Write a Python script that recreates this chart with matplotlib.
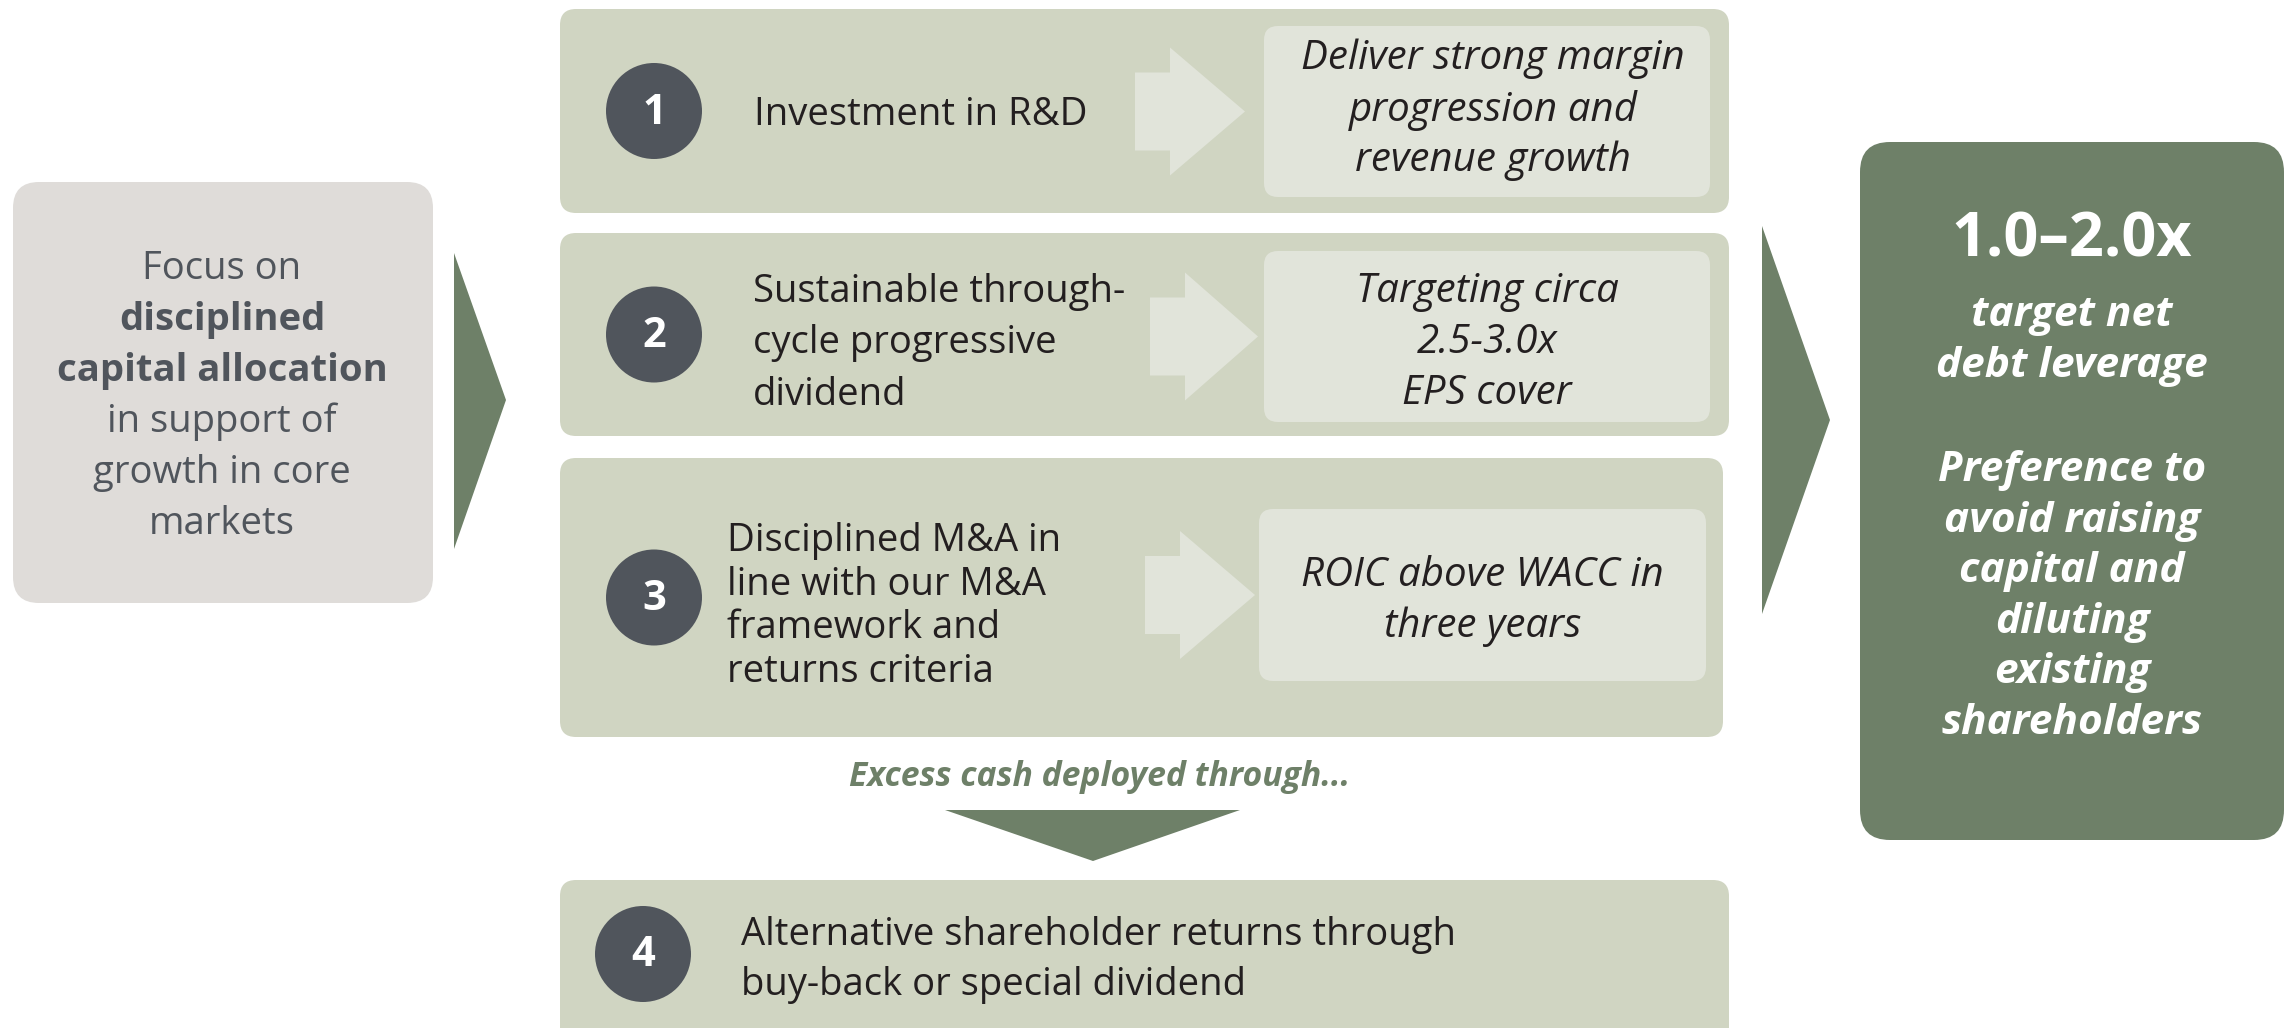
import matplotlib.pyplot as plt
from matplotlib.patches import FancyBboxPatch, Circle, Polygon

plt.rcParams['font.family'] = ['Open Sans', 'DejaVu Sans']

# colours
grey_box = '#dfdcd9'
grey_text = '#50555c'
sage = '#d0d5c2'
pale = '#e1e4da'
dark = '#50555c'
green = '#6e8068'
ink = '#231f20'

# content
left_lines = [('Focus on', 'normal'), ('disciplined', 'bold'), ('capital allocation', 'bold'),
              ('in support of', 'normal'), ('growth in core', 'normal'), ('markets', 'normal')]
numbers = ['1', '2', '3', '4']
items = ['Investment in R&D',
         'Sustainable through-\ncycle progressive\ndividend',
         'Disciplined M&A in\nline with our M&A\nframework and\nreturns criteria',
         'Alternative shareholder returns through\nbuy-back or special dividend']
outcomes = ['Deliver strong margin\nprogression and\nrevenue growth',
            'Targeting circa\n2.5-3.0x\nEPS cover',
            'ROIC above WACC in\nthree years']
excess_label = 'Excess cash deployed through...'
right_head = '1.0\u20132.0x'
right_sub = 'target net\ndebt leverage'
right_body = 'Preference to\navoid raising\ncapital and\ndiluting\nexisting\nshareholders'

fig = plt.figure(figsize=(22.88, 10.28), dpi=100)
ax = fig.add_axes([0, 0, 1, 1])
ax.set_xlim(0, 2288)
ax.set_ylim(1028, 0)
ax.axis('off')


def rbox(x0, y0, x1, y1, color, r):
    ax.add_patch(FancyBboxPatch((x0 + r, y0 + r), x1 - x0 - 2 * r, y1 - y0 - 2 * r,
                                boxstyle='round,pad=%d' % r, fc=color, ec='none'))


def right_arrow(x0, x1, xh, yc, body_h, head_h, color):
    pts = [(x0, yc - body_h / 2), (xh, yc - body_h / 2), (xh, yc - head_h / 2), (x1, yc),
           (xh, yc + head_h / 2), (xh, yc + body_h / 2), (x0, yc + body_h / 2)]
    ax.add_patch(Polygon(pts, closed=True, fc=color, ec='none'))


# left box
rbox(13, 182, 433, 603, grey_box, 26)
ys = [269, 320, 371, 422, 473, 524]
for (txt, w), y in zip(left_lines, ys):
    ax.text(222, y, txt, ha='center', va='center', fontsize=27.5, fontweight=w, color=grey_text)
ax.add_patch(Polygon([(454, 253), (506, 400), (454, 549)], closed=True, fc=green, ec='none'))

# rows 1-3
rows = [(9, 213), (233, 436), (458, 737)]
inner = [(1264, 26, 1710, 197), (1264, 251, 1710, 422), (1259, 509, 1706, 681)]
arrows = [(1135, 1245, 1170), (1150, 1258, 1185), (1145, 1255, 1180)]
text_x = [754, 753, 727]
item_ls = [1.3, 1.45, 1.19]
item_dy = [4, 9, 9]
inner_dx = [6, 0, 0]
inner_dy = [-1.5, 6, 6]
for i, (y0, y1) in enumerate(rows):
    x1 = 1729 if i < 2 else 1723
    rbox(560, y0, x1, y1, sage, 16)
    yc = (y0 + y1) / 2
    ax.add_patch(Circle((654, yc), 48, fc=dark, ec='none'))
    ax.text(654, yc + 2, numbers[i], ha='center', va='center', fontsize=30, fontweight='bold', color='white')
    ax.text(text_x[i], yc + item_dy[i], items[i], ha='left', va='center', fontsize=27.5, color=ink,
            linespacing=item_ls[i])
    a0, a1, ah = arrows[i]
    right_arrow(a0, a1, ah, (inner[i][1] + inner[i][3]) / 2, 78, 128, pale)
    bx0, by0, bx1, by1 = inner[i]
    rbox(bx0, by0, bx1, by1, pale, 14)
    ax.text((bx0 + bx1) / 2 + inner_dx[i], (by0 + by1) / 2 + inner_dy[i], outcomes[i],
            ha='center', va='center', fontsize=29, style='italic', color=ink, linespacing=1.34)

# excess cash
ax.text(1100, 777, excess_label, ha='center', va='center', fontsize=24.3, fontweight='bold',
        style='italic', color=green)
ax.add_patch(Polygon([(945, 810), (1240, 810), (1093, 861)], closed=True, fc=green, ec='none'))

# row 4
rbox(560, 880, 1729, 1060, sage, 16)
ax.add_patch(Circle((643, 954), 48, fc=dark, ec='none'))
ax.text(643, 956, numbers[3], ha='center', va='center', fontsize=30, fontweight='bold', color='white')
ax.text(741, 960, items[3], ha='left', va='center', fontsize=27.5, color=ink, linespacing=1.39)

# right arrow and box
ax.add_patch(Polygon([(1762, 226), (1830, 420), (1762, 614)], closed=True, fc=green, ec='none'))
rbox(1860, 142, 2284, 840, green, 30)
ax.text(2072, 241, right_head, ha='center', va='center', fontsize=44, fontweight='bold', color='white')
ax.text(2072, 341, right_sub, ha='center', va='center', fontsize=30.5, fontweight='bold',
        style='italic', color='white', linespacing=1.31)
ax.text(2072, 597, right_body, ha='center', va='center', fontsize=30.5, fontweight='bold',
        style='italic', color='white', linespacing=1.31)

fig.savefig('out.png', dpi=100, facecolor='white')
